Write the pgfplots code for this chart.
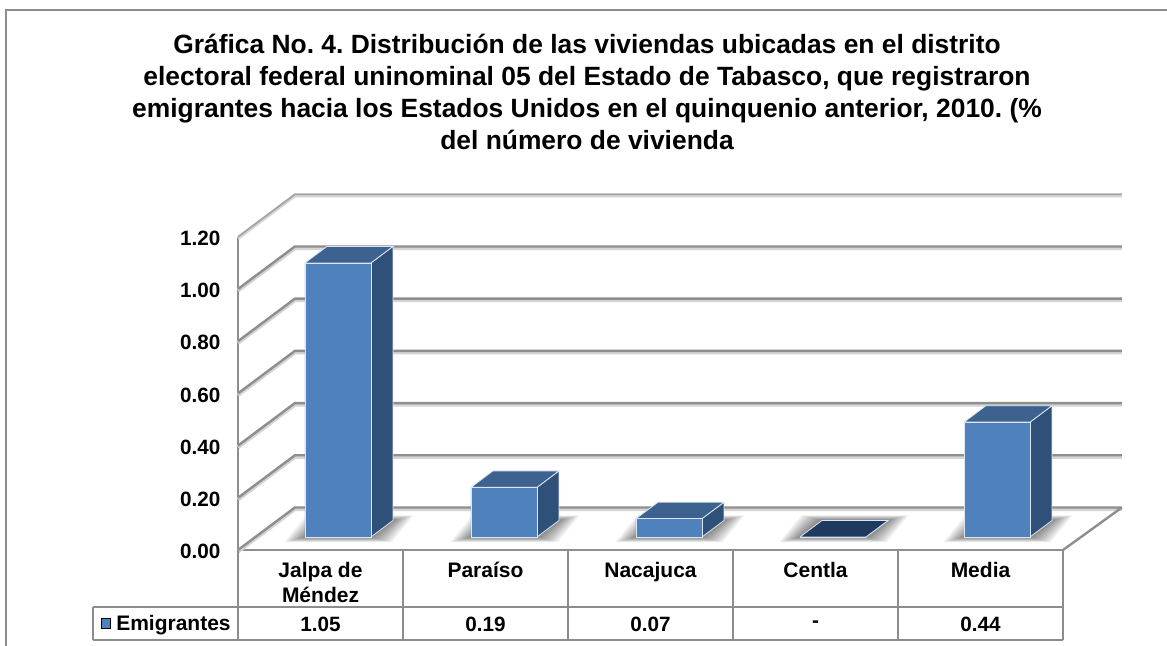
\documentclass[border=0pt]{standalone}
\usepackage{pgfplots}
\pgfplotsset{compat=1.18}
\usepackage{fontspec}
\setmainfont{Liberation Sans}
\definecolor{gridc}{HTML}{8E8E8E}
\definecolor{gridl}{HTML}{D4D4D4}
\definecolor{tablec}{HTML}{8C8C8C}
\definecolor{frontc}{HTML}{4F81BD}
\definecolor{sidec}{HTML}{2F5078}
\definecolor{topc}{HTML}{3D6290}
\definecolor{flatc}{HTML}{1F3A5F}
\definecolor{edgec}{HTML}{DCE6F1}
% one grid line: value, value on the back wall
\newcommand\GridLine[2]{%
  \addplot[gridl,line width=4bp,forget plot] coordinates {(0,#1-0.006)(0.345,#2-0.006)(5.357,#2-0.006)};
  \addplot[gridc,line width=2.4bp,forget plot] coordinates {(0,#1)(0.345,#2)(5.357,#2)};
}
% one 3-D bar: left edge, value, colour of the top
\newcommand\ThreeDBar[3]{%
  \pgfmathsetmacro\xa{#1}\pgfmathsetmacro\xb{#1+0.4}\pgfmathsetmacro\xc{#1+0.533}\pgfmathsetmacro\xd{#1+0.133}%
  \pgfmathsetmacro\yb{0.05}\pgfmathsetmacro\yt{0.05+#2}\pgfmathsetmacro\yB{0.113}\pgfmathsetmacro\yT{0.113+#2}%
  \pgfplotsforeachungrouped \k in {1,0.9,0.8,0.7,0.6,0.5,0.4,0.3,0.2,0.1}{%
    \pgfmathsetmacro\ex{0.125*\k}\pgfmathsetmacro\ey{0.02*\k}%
    \pgfmathsetmacro\pa{\xa-\ex}\pgfmathsetmacro\pb{\xb+\ex}\pgfmathsetmacro\pc{\xc+\ex}\pgfmathsetmacro\pd{\xd-\ex}%
    \pgfmathsetmacro\qa{\yb-\ey}\pgfmathsetmacro\qb{\yB+\ey}%
    \edef\temp{\noexpand\addplot[fill=black,fill opacity=0.055,draw=none,forget plot] coordinates {(\pa,\qa)(\pb,\qa)(\pc,\qb)(\pd,\qb)(\pa,\qa)};}\temp
  }%
  \edef\temp{\noexpand\addplot[fill=sidec,draw=edgec,line width=0.8bp,forget plot] coordinates {(\xb,\yb)(\xc,\yB)(\xc,\yT)(\xb,\yt)(\xb,\yb)};}\temp
  \edef\temp{\noexpand\addplot[fill=#3,draw=edgec,line width=0.8bp,forget plot] coordinates {(\xa,\yt)(\xb,\yt)(\xc,\yT)(\xd,\yT)(\xa,\yt)};}\temp
  \edef\temp{\noexpand\addplot[fill=frontc,draw=edgec,line width=0.8bp,forget plot] coordinates {(\xa,\yb)(\xb,\yb)(\xb,\yt)(\xa,\yt)(\xa,\yb)};}\temp
}
\begin{document}
\frenchspacing
\begin{tikzpicture}
\path[use as bounding box,fill=white] (0,0) rectangle (1167bp,-646bp);
\draw[tablec,line width=1.6bp] (1167bp,-10bp) -- (6bp,-10bp) -- (6bp,-646bp);
\node[align=center,font=\bfseries\fontsize{26.4bp}{32bp}\selectfont] at (587bp,-92bp)
  {Gráfica No. 4. Distribución de las viviendas ubicadas en el distrito\\
   electoral federal uninominal 05 del Estado de Tabasco, que registraron\\
   emigrantes hacia los Estados Unidos en el quinquenio anterior, 2010. (\%\\
   del número de vivienda};
\begin{axis}[
  at={(238bp,-550bp)},anchor=south west,
  x=165bp,y=261bp,
  xmin=0,xmax=5,ymin=0,ymax=1.2,
  clip=false,
  axis x line=bottom,axis y line=left,
  axis line style={-,draw=gridc,line width=2.4bp},
  major tick length=0pt,
  xtick={0.5,1.5,2.5,3.5,4.5},
  xticklabels={{Jalpa de\\Méndez},Paraíso,Nacajuca,Centla,Media},
  xticklabel style={anchor=north,align=center,yshift=-9bp,
    font=\bfseries\fontsize{21bp}{25bp}\selectfont},
  ytick={0,0.2,0.4,0.6,0.8,1,1.2},
  yticklabel style={xshift=-14bp,yshift=-1.5bp,font=\bfseries\fontsize{20.7bp}{24bp}\selectfont},
  /pgf/number format/.cd,fixed,fixed zerofill,precision=2,assume math mode=true,
]
% top line of the walls
\addplot[gridl,line width=3bp,forget plot] coordinates {(0,1.194)(0.345,1.357)(5.357,1.357)};
\addplot[gridc!80,line width=1.8bp,forget plot] coordinates {(0,1.2)(0.345,1.363)(5.357,1.363)};
\GridLine{1.0}{1.163}
\GridLine{0.8}{0.963}
\GridLine{0.6}{0.763}
\GridLine{0.4}{0.563}
\GridLine{0.2}{0.363}
\GridLine{0}{0.163}
\addplot[gridc,line width=2.4bp,forget plot] coordinates {(5,0)(5.357,0.163)};
% bars
\ThreeDBar{0.406}{1.05}{topc}
\ThreeDBar{1.412}{0.19}{topc}
\ThreeDBar{2.412}{0.07}{topc}
\ThreeDBar{3.406}{0}{flatc}
\ThreeDBar{4.4}{0.44}{topc}
% data table
\addplot[tablec,line width=1.6bp,forget plot] coordinates {(0,0)(0,-0.345)};
\addplot[tablec,line width=1.6bp,forget plot] coordinates {(1,0)(1,-0.345)};
\addplot[tablec,line width=1.6bp,forget plot] coordinates {(2,0)(2,-0.345)};
\addplot[tablec,line width=1.6bp,forget plot] coordinates {(3,0)(3,-0.345)};
\addplot[tablec,line width=1.6bp,forget plot] coordinates {(4,0)(4,-0.345)};
\addplot[tablec,line width=1.6bp,forget plot] coordinates {(5,0)(5,-0.345)};
\addplot[tablec,line width=1.6bp,forget plot] coordinates {(-0.879,-0.218)(5,-0.218)};
\addplot[tablec,line width=1.6bp,forget plot] coordinates {(-0.879,-0.345)(5,-0.345)};
\addplot[tablec,line width=1.6bp,forget plot] coordinates {(-0.879,-0.218)(-0.879,-0.345)};
\addplot[only marks,mark=square*,mark size=4.8bp,mark options={fill=frontc,draw=none},forget plot] coordinates {(-0.803,-0.28)};
\node[anchor=west,inner sep=0pt,font=\bfseries\fontsize{21bp}{24bp}\selectfont] at (axis cs:-0.739,-0.286) {Emigrantes};
\addplot[draw=none,forget plot,point meta=explicit symbolic,nodes near coords,
  every node near coord/.append style={anchor=center,font=\bfseries\fontsize{20.7bp}{24bp}\selectfont}]
  coordinates {(0.5,-0.2835)[1.05] (1.5,-0.2835)[0.19] (2.5,-0.2835)[0.07] (3.5,-0.2835)[-] (4.5,-0.2835)[0.44]};
\end{axis}
\end{tikzpicture}
\end{document}
